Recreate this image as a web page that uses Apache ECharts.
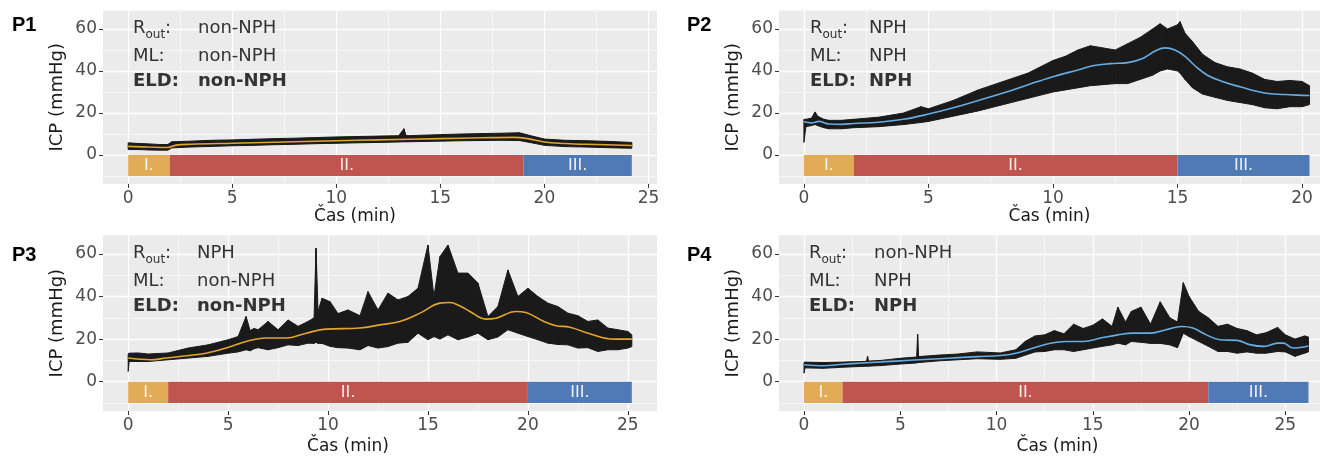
<!DOCTYPE html>
<html>
<head>
<meta charset="utf-8">
<script src="https://cdn.jsdelivr.net/npm/echarts@6/dist/echarts.min.js"></script>
<style>
  html, body { margin: 0; padding: 0; background: #fff; }
  #chart { width: 1325px; height: 456px; }
</style>
</head>
<body>
<div id="chart"></div>
<script>
// ---- data (time in min, ICP in mmHg) ----
// black trace is kept as its upper / lower envelope
var p1T  = [0, 0.5, 1, 1.5, 1.9, 2.1, 3, 4, 5, 6, 7, 8, 9, 10, 11, 12, 13, 13.25, 13.35, 13.45, 14, 15, 16, 17, 18, 18.8, 19.5, 20, 21, 22, 23, 24.2];
var p1Up = [5.8, 5.5, 5.3, 5.0, 5.0, 6.3, 6.6, 7.0, 7.2, 7.5, 7.8, 8.0, 8.3, 8.6, 8.8, 9.0, 9.2, 12.5, 9.3, 9.2, 9.4, 9.7, 10.0, 10.2, 10.4, 10.6, 8.8, 7.6, 7.0, 6.8, 6.5, 6.0];
var p1Lo = [2.6, 2.6, 2.4, 2.3, 2.3, 3.4, 3.8, 4.1, 4.4, 4.6, 4.9, 5.1, 5.4, 5.6, 5.8, 6.0, 6.2, 6.3, 6.3, 6.3, 6.4, 6.6, 6.8, 6.9, 7.0, 6.9, 5.6, 4.6, 4.0, 3.8, 3.5, 3.2];
var p1TrendT = [0, 1, 1.9, 2.3, 3, 5, 8, 10, 12, 15, 17, 18.5, 19.2, 20, 21, 22, 23, 24.2];
var p1Trend  = [4.1, 3.8, 3.6, 4.7, 5.1, 5.6, 6.3, 6.8, 7.2, 7.8, 8.2, 8.4, 7.8, 6.2, 5.5, 5.1, 4.9, 4.5];

var p2T  = [0, 0.08, 0.3, 0.45, 0.55, 0.8, 1, 1.5, 2, 3, 4, 4.7, 5, 6, 7, 8, 9, 10, 10.5, 11, 11.5, 12, 12.5, 13, 13.5, 14, 14.3, 14.6, 15, 15.1, 15.3, 15.6, 16, 16.5, 17, 17.5, 18, 18.5, 19, 19.5, 20, 20.3];
var p2Up = [17, 17, 17.5, 20.5, 18.5, 17, 16.5, 16.5, 17, 18, 20, 23, 22, 26, 31, 35, 39, 45, 47, 50, 52, 51, 50, 53, 56, 60, 62.5, 60, 62, 63.5, 58, 54, 48, 44, 42, 41, 39, 36, 35, 35.5, 35, 33];
var p2Lo = [6, 13.5, 14, 14.5, 14, 13, 12.5, 12.5, 13, 13.5, 14.5, 15.5, 16, 18.5, 21, 24, 27, 30, 31, 32, 33, 33.5, 34, 34, 36, 38, 40, 41, 40, 39, 36, 32, 29, 27.5, 26, 25, 24, 22.5, 22, 23, 23, 24];
var p2TrendT = [0, 0.3, 0.6, 1, 1.5, 2, 3, 4, 5, 6, 7, 8, 9, 10, 11, 11.6, 12.3, 13, 13.6, 14.1, 14.5, 14.9, 15.3, 15.7, 16.2, 16.8, 17.5, 18.5, 19.3, 19.8, 20.3];
var p2Trend  = [15.8, 15.3, 16, 14.8, 14.6, 15, 15.6, 17, 19.5, 22.5, 26, 29.5, 33.5, 37.3, 40.5, 42.5, 43.5, 44, 46, 49.5, 51, 50, 47, 42.5, 38, 35, 32.5, 29.5, 28.8, 28.5, 28.3];

var p3T  = [0, 0.05, 0.5, 1, 2, 3, 4, 5, 5.5, 5.9, 6.1, 6.3, 6.5, 7, 7.5, 8, 8.5, 9, 9.3, 9.4, 9.5, 9.7, 10.1, 10.5, 11, 11.6, 12, 12.5, 13, 13.5, 14, 14.5, 15, 15.3, 15.6, 16, 16.5, 17, 17.5, 18, 18.5, 19, 19.5, 20, 20.5, 21, 21.5, 22, 22.5, 23, 23.5, 24, 24.5, 25, 25.2];
var p3Up = [13, 13.4, 13.5, 13, 13.5, 15.8, 17.3, 19.7, 21.2, 30.6, 24, 25, 24.4, 28.3, 24.4, 29, 26, 28.3, 30, 62.7, 33, 39.2, 37.6, 32, 33.7, 31, 42.3, 33.7, 41.6, 38.4, 40, 43.9, 64.2, 40, 58.7, 64.2, 51, 51, 46.3, 30.6, 35.3, 52.5, 40, 43.9, 40, 36.9, 35.3, 32.2, 31, 28.3, 29, 25.2, 24.4, 23.6, 22];
var p3Lo = [4.8, 9.5, 9.5, 9.5, 10.3, 11.1, 11.9, 13.4, 14, 15, 14.5, 15.5, 16, 15, 16, 17.3, 17, 18.1, 18, 18.5, 18, 18, 16.6, 16, 15.8, 15, 17, 15.8, 16.5, 18.1, 18.5, 22.8, 19.7, 21.2, 20, 22, 19.7, 21, 22.8, 19.7, 21, 24.4, 22.8, 21.2, 19.7, 18.1, 17.5, 17.3, 15.8, 16, 14.2, 15, 15, 15.8, 16.5];
var p3TrendT = [0, 1.1, 1.9, 2.9, 3.9, 4.9, 5.9, 6.9, 7.9, 8.9, 9.9, 11.6, 12.6, 13.6, 14.6, 15.6, 16.1, 16.6, 17.1, 17.9, 18.4, 19.4, 19.9, 20.8, 21.4, 22.1, 23.1, 24.3, 25.2];
var p3Trend  = [11.1, 10.3, 11.1, 12.2, 13.4, 15.8, 18.9, 20.5, 20.5, 22.8, 24.7, 25.2, 26.7, 28.3, 32.2, 36.9, 37.2, 35.6, 33, 29.4, 29.8, 33, 32.5, 28.3, 26.3, 25.6, 22.5, 20, 20];

var p4T  = [0, 0.05, 1, 2, 3, 3.25, 3.3, 3.35, 4, 5, 5.85, 5.9, 5.95, 7, 8, 9, 10.2, 11, 11.5, 12, 12.5, 13, 13.5, 14, 14.5, 15, 15.5, 16, 16.3, 16.7, 17, 17.5, 18, 18.5, 19, 19.4, 19.7, 20, 20.5, 21, 21.5, 22, 22.5, 23, 23.5, 24, 24.6, 25, 25.5, 26, 26.2];
var p4Up = [9, 9.2, 9, 9.2, 9.5, 9.6, 12, 9.7, 10, 11, 11.6, 22.3, 11.8, 12.5, 13, 14, 13.5, 15, 19, 21.5, 22, 24, 22.5, 27, 25, 26.5, 29.5, 26, 35, 28, 33, 35, 27, 37.5, 30, 28, 46.5, 40, 33, 30, 26, 27, 25, 24, 22, 23, 25.5, 22, 20, 21.5, 21];
var p4Lo = [4, 6.5, 6.3, 6.8, 7.2, 7.3, 7.3, 7.3, 7.6, 8.3, 8.8, 9, 9, 9.8, 10.3, 10.8, 10.5, 11, 12.5, 14, 14.2, 15, 15, 14.2, 15, 15.8, 16.6, 17.3, 18.1, 17.3, 18.9, 18.5, 18, 18, 17.3, 16, 22.8, 21.2, 18.9, 16.6, 14.2, 14.2, 13.4, 14, 13.4, 13.4, 14.2, 14, 11.9, 13.4, 14];
var p4TrendT = [0, 1, 2, 3, 4, 5, 6, 7, 8, 9, 10.2, 11, 11.9, 12.8, 13.6, 14.5, 15.4, 16.3, 17.1, 18, 18.8, 19.6, 20.2, 20.9, 21.6, 22.5, 23.2, 23.9, 24.6, 24.9, 25.4, 26.2];
var p4Trend  = [8, 7.5, 8.2, 8.8, 9.3, 9.8, 10.3, 10.8, 11.3, 11.8, 12.3, 13.4, 15.8, 18.1, 18.9, 18.9, 20.5, 22, 22.8, 22.8, 24.4, 25.9, 25.2, 22, 19.7, 19.4, 17.3, 16.6, 18.1, 18.1, 15.8, 16.8];

// phase boundaries (I., II., III.)
var p1Phases = [0, 2, 19, 24.2];
var p2Phases = [0, 2, 15, 20.3];
var p3Phases = [0, 2, 20, 25.2];
var p4Phases = [0, 2, 21, 26.2];

var phaseNames = ['I.', 'II.', 'III.'];
var phaseColors = ['#E2AB56', '#C0544F', '#4F7AB6'];

var yTicks = [0, 20, 40, 60];
var yMinor = [-10, 10, 30, 50];
var xTicks = [0, 5, 10, 15, 20, 25];
var xMinor = [2.5, 7.5, 12.5, 17.5, 22.5];

var labels = [
  { id: 'P1', rout: 'non-NPH', ml: 'non-NPH', eld: 'non-NPH' },
  { id: 'P2', rout: 'NPH', ml: 'NPH', eld: 'NPH' },
  { id: 'P3', rout: 'NPH', ml: 'non-NPH', eld: 'non-NPH' },
  { id: 'P4', rout: 'non-NPH', ml: 'NPH', eld: 'NPH' }
];

var FONT = 'DejaVu Sans';
var TRACE = '#1A1A1A';

var panels = [
  { t: p1T, up: p1Up, lo: p1Lo, tt: p1TrendT, tv: p1Trend, ph: p1Phases, color: '#E3A52E',
    grid: { left: 103, top: 10.6, width: 554, height: 173.3 }, x: [-1.21, 25.41], nameGap: 19, namePad: 50,
    txt: { x: 133, vx: 198, y: 0 }, plab: { x: 12, y: 25 } },
  { t: p2T, up: p2Up, lo: p2Lo, tt: p2TrendT, tv: p2Trend, ph: p2Phases, color: '#66ADE3',
    grid: { left: 779, top: 10.6, width: 541, height: 173.3 }, x: [-1.0, 20.72], nameGap: 19, namePad: 0,
    txt: { x: 810, vx: 869, y: 0 }, plab: { x: 687, y: 25 } },
  { t: p3T, up: p3Up, lo: p3Lo, tt: p3TrendT, tv: p3Trend, ph: p3Phases, color: '#E3A52E',
    grid: { left: 103, top: 235.3, width: 554, height: 176 }, x: [-1.26, 26.46], nameGap: 27, namePad: 64,
    txt: { x: 133, vx: 197, y: 225 }, plab: { x: 12, y: 255 } },
  { t: p4T, up: p4Up, lo: p4Lo, tt: p4TrendT, tv: p4Trend, ph: p4Phases, color: '#66ADE3',
    grid: { left: 779, top: 235.3, width: 541, height: 176 }, x: [-1.3, 26.8], nameGap: 27, namePad: -16,
    txt: { x: 809, vx: 874, y: 225 }, plab: { x: 687, y: 255 } }
];

function zip(a, b) { return a.map(function (v, i) { return [v, b[i]]; }); }

// one segment of the envelope per item: [t0, lo0, up0, t1, lo1, up1]
function segments(t, lo, up) {
  var out = [];
  for (var k = 0; k < t.length - 1; k++) out.push([t[k], lo[k], up[k], t[k + 1], lo[k + 1], up[k + 1]]);
  return out;
}

function renderBand(params, api) {
  var a = api.coord([api.value(0), api.value(1)]);
  var b = api.coord([api.value(3), api.value(4)]);
  var c = api.coord([api.value(3), api.value(5)]);
  var d = api.coord([api.value(0), api.value(2)]);
  return {
    type: 'polygon',
    shape: { points: [a, b, c, d] },
    style: { fill: TRACE, stroke: TRACE, lineWidth: 1 }
  };
}

var grids = [], xAxes = [], yAxes = [], series = [], graphics = [];

panels.forEach(function (p, i) {
  grids.push({ left: p.grid.left, top: p.grid.top, width: p.grid.width, height: p.grid.height,
    show: true, backgroundColor: '#EBEBEB', borderWidth: 0 });

  var xTicksIn = xTicks.filter(function (v) { return v <= p.x[1]; });
  var xMinorIn = xMinor.filter(function (v) { return v <= p.x[1]; });

  // major x axis
  xAxes.push({
    type: 'value', gridIndex: i, min: p.x[0], max: p.x[1], position: 'bottom',
    axisLine: { show: false, onZero: false },
    axisTick: { show: true, length: 4, customValues: xTicksIn, lineStyle: { color: '#333', width: 1 } },
    axisLabel: { customValues: xTicksIn, color: '#4D4D4D', fontSize: 17, fontFamily: FONT, margin: 6 },
    splitLine: { show: true, lineStyle: { color: '#FFFFFF', width: 1.3 } },
    name: 'Čas (min)', nameLocation: 'middle', nameGap: p.nameGap,
    nameTextStyle: { color: '#1A1A1A', fontSize: 17, fontFamily: FONT, padding: p.namePad >= 0 ? [0, p.namePad, 0, 0] : [0, 0, 0, -p.namePad] }
  });
  // minor x grid lines
  xAxes.push({
    type: 'value', gridIndex: i, min: p.x[0], max: p.x[1], position: 'top',
    axisLine: { show: false, onZero: false }, axisLabel: { show: false },
    axisTick: { show: false, customValues: xMinorIn },
    splitLine: { show: true, lineStyle: { color: '#FFFFFF', width: 0.6 } }
  });
  // major y axis
  yAxes.push({
    type: 'value', gridIndex: i, min: -13.75, max: 68.75, position: 'left',
    axisLine: { show: false, onZero: false },
    axisTick: { show: true, length: 4, customValues: yTicks, lineStyle: { color: '#333', width: 1 } },
    axisLabel: { customValues: yTicks, color: '#4D4D4D', fontSize: 17, fontFamily: FONT, margin: 6 },
    splitLine: { show: true, lineStyle: { color: '#FFFFFF', width: 1.3 } },
    name: 'ICP (mmHg)', nameLocation: 'middle', nameGap: 37,
    nameTextStyle: { color: '#1A1A1A', fontSize: 18, fontFamily: FONT }
  });
  // minor y grid lines
  yAxes.push({
    type: 'value', gridIndex: i, min: -13.75, max: 68.75, position: 'right',
    axisLine: { show: false, onZero: false }, axisLabel: { show: false },
    axisTick: { show: false, customValues: yMinor },
    splitLine: { show: true, lineStyle: { color: '#FFFFFF', width: 0.6 } }
  });

  var xi = 2 * i, yi = 2 * i;

  // black ICP trace envelope
  series.push({
    type: 'custom', xAxisIndex: xi, yAxisIndex: yi, silent: true, z: 2,
    renderItem: renderBand,
    encode: { x: [0, 3], y: [1, 2, 4, 5] },
    data: segments(p.t, p.lo, p.up)
  });

  var areas = phaseNames.map(function (nm, k) {
    return [
      { name: nm, xAxis: p.ph[k], yAxis: -10, itemStyle: { color: phaseColors[k], opacity: 1 } },
      { xAxis: p.ph[k + 1], yAxis: 0 }
    ];
  });

  // smoothed trend + phase bars
  series.push({
    type: 'line', xAxisIndex: xi, yAxisIndex: yi, data: zip(p.tt, p.tv),
    symbol: 'none', smooth: 0.4, silent: true, z: 3,
    lineStyle: { color: p.color, width: 1.6 },
    markArea: {
      silent: true,
      label: { show: true, position: 'inside', color: 'rgba(255,255,255,0.9)', fontSize: 16, fontFamily: FONT },
      data: areas
    }
  });

  // panel id and classifier labels
  var lb = labels[i];
  graphics.push({ type: 'text', x: p.plab.x, y: p.plab.y, z: 100,
    style: { text: lb.id, fill: '#000', font: 'bold 20px "Liberation Sans"', verticalAlign: 'middle' } });

  var rows = [
    { y: 28.5, v: lb.rout, bold: false },
    { y: 56.5, v: lb.ml, bold: false, key: 'ML:' },
    { y: 81.5, v: lb.eld, bold: true, key: 'ELD:' }
  ];
  rows.forEach(function (r) {
    var f = (r.bold ? 'bold ' : '') + '18px "' + FONT + '"';
    var yy = r.y + p.txt.y;
    if (r.key) {
      graphics.push({ type: 'text', x: p.txt.x, y: yy, z: 100, style: { text: r.key, fill: '#333', font: f, verticalAlign: 'middle' } });
    } else {
      graphics.push({ type: 'text', x: p.txt.x, y: yy, z: 100, style: { text: 'R', fill: '#333', font: f, verticalAlign: 'middle' } });
      graphics.push({ type: 'text', x: p.txt.x + 12.5, y: yy + 6, z: 100, style: { text: 'out', fill: '#333', font: '12px "' + FONT + '"', verticalAlign: 'middle' } });
      graphics.push({ type: 'text', x: p.txt.x + 32, y: yy, z: 100, style: { text: ':', fill: '#333', font: f, verticalAlign: 'middle' } });
    }
    graphics.push({ type: 'text', x: p.txt.vx, y: yy, z: 100, style: { text: r.v, fill: '#333', font: f, verticalAlign: 'middle' } });
  });
});

var chart = echarts.init(document.getElementById('chart'), null, { renderer: 'canvas' });
chart.setOption({
  animation: false,
  backgroundColor: '#FFFFFF',
  grid: grids,
  xAxis: xAxes,
  yAxis: yAxes,
  series: series,
  graphic: graphics
});
</script>
</body>
</html>
